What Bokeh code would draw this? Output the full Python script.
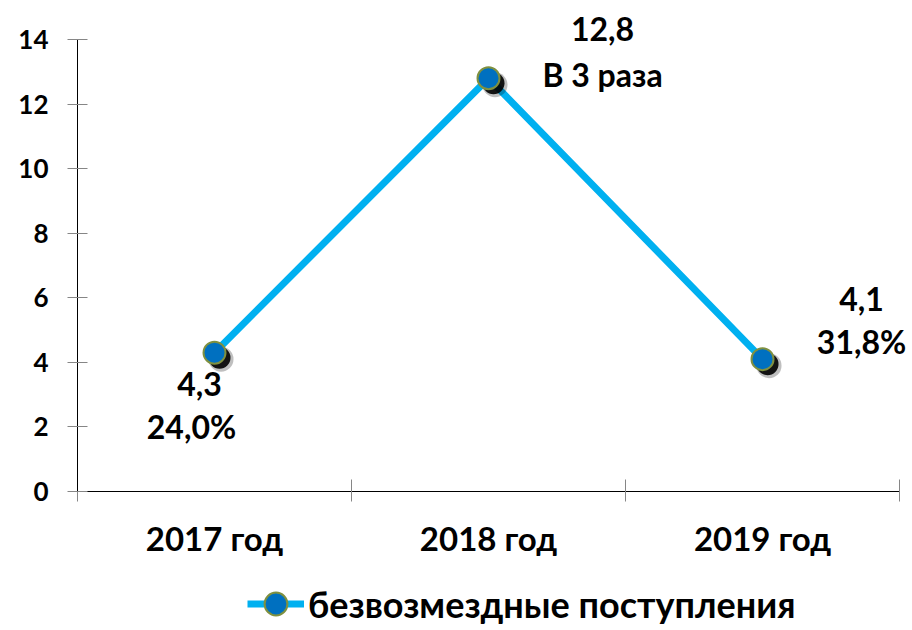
from bokeh.plotting import figure
from bokeh.models import (Range1d, FixedTicker, Label, Legend, LegendItem, ColumnDataSource)
from bokeh.transform import dodge
from bokeh.embed import file_html
from bokeh.resources import INLINE

# ---- data ----
categories = ["2017 год", "2018 год", "2019 год"]
values = [4.3, 12.8, 4.1]
value_labels = ["4,3", "12,8", "4,1"]
change_labels = ["24,0%", "В 3 раза", "31,8%"]
y_ticks = [0, 2, 4, 6, 8, 10, 12, 14]
y_max = 14
series_name = "безвозмездные поступления"

xs = [i + 0.5 for i in range(len(categories))]
src = ColumnDataSource(dict(x=xs, y=values))

FONT = "Lato"

# the frame covers the whole canvas; axes are drawn at fixed data locations
p = figure(frame_width=910, frame_height=628, output_backend="svg", toolbar_location=None,
           x_range=Range1d(-0.281, len(categories) + 0.04),
           y_range=Range1d(-4.243, y_max + 1.208),
           min_border_left=0, min_border_right=0, min_border_top=0, min_border_bottom=0)
p.outline_line_color = None
p.grid.visible = False
p.background_fill_color = "white"
p.border_fill_color = "white"

# y axis
ya = p.yaxis[0]
ya.fixed_location = 0
ya.ticker = FixedTicker(ticks=y_ticks)
ya.bounds = (0, y_max)
ya.major_tick_in = 10
ya.major_tick_out = 10
ya.major_tick_line_color = "#868686"
ya.minor_tick_line_color = None
ya.axis_line_color = "black"
ya.major_label_text_font = FONT
ya.major_label_text_font_style = "bold"
ya.major_label_text_font_size = "26px"
ya.major_label_text_color = "black"
ya.major_label_standoff = 19

# x axis
xa = p.xaxis[0]
xa.fixed_location = 0
xa.ticker = FixedTicker(ticks=xs, minor_ticks=list(range(len(categories) + 1)))
xa.bounds = (0, len(categories))
xa.major_label_overrides = {x: c for x, c in zip(xs, categories)}
xa.major_tick_in = 0
xa.major_tick_out = 0
xa.minor_tick_in = 12
xa.minor_tick_out = 10
xa.minor_tick_line_color = "#868686"
xa.axis_line_color = "black"
xa.major_label_text_font = FONT
xa.major_label_text_font_style = "bold"
xa.major_label_text_font_size = "33px"
xa.major_label_text_color = "black"
xa.major_label_standoff = 16

# line
line_r = p.line("x", "y", source=src, line_color="#00B0F0", line_width=7)

# marker shadow
dx = 5 / 274.0
dy = -5 / 32.3
p.scatter(dodge("x", dx * 1.3), dodge("y", dy * 1.3), source=src, size=25,
          fill_color="black", fill_alpha=0.25, line_color=None)
p.scatter(dodge("x", dx), dodge("y", dy), source=src, size=22,
          fill_color="black", fill_alpha=0.9, line_color=None)
marker_r = p.scatter("x", "y", source=src, size=22, fill_color="#0070C0",
                     line_color="#7F9040", line_width=2)

# annotations
val_offsets = [(-15, -31), (114, 49), (99, 60)]
chg_offsets = [(-23, -74), (114, 4), (99, 18)]
for i in range(len(categories)):
    for txt, (ox, oy) in ((value_labels[i], val_offsets[i]), (change_labels[i], chg_offsets[i])):
        p.add_layout(Label(x=xs[i], y=values[i], x_offset=ox, y_offset=oy, text=txt,
                           text_align="center", text_baseline="middle",
                           text_font=FONT, text_font_style="bold",
                           text_font_size="32px", text_color="black"))

legend = Legend(items=[LegendItem(label=series_name, renderers=[line_r, marker_r])],
                location=(247, -4), orientation="horizontal",
                glyph_width=57, glyph_height=57, label_standoff=4,
                label_text_font=FONT, label_text_font_style="bold",
                label_text_font_size="36px", label_text_color="black",
                border_line_color=None, background_fill_alpha=0,
                padding=0, margin=0)
p.add_layout(legend, "center")

open("out.html", "w").write(file_html(p, INLINE))
